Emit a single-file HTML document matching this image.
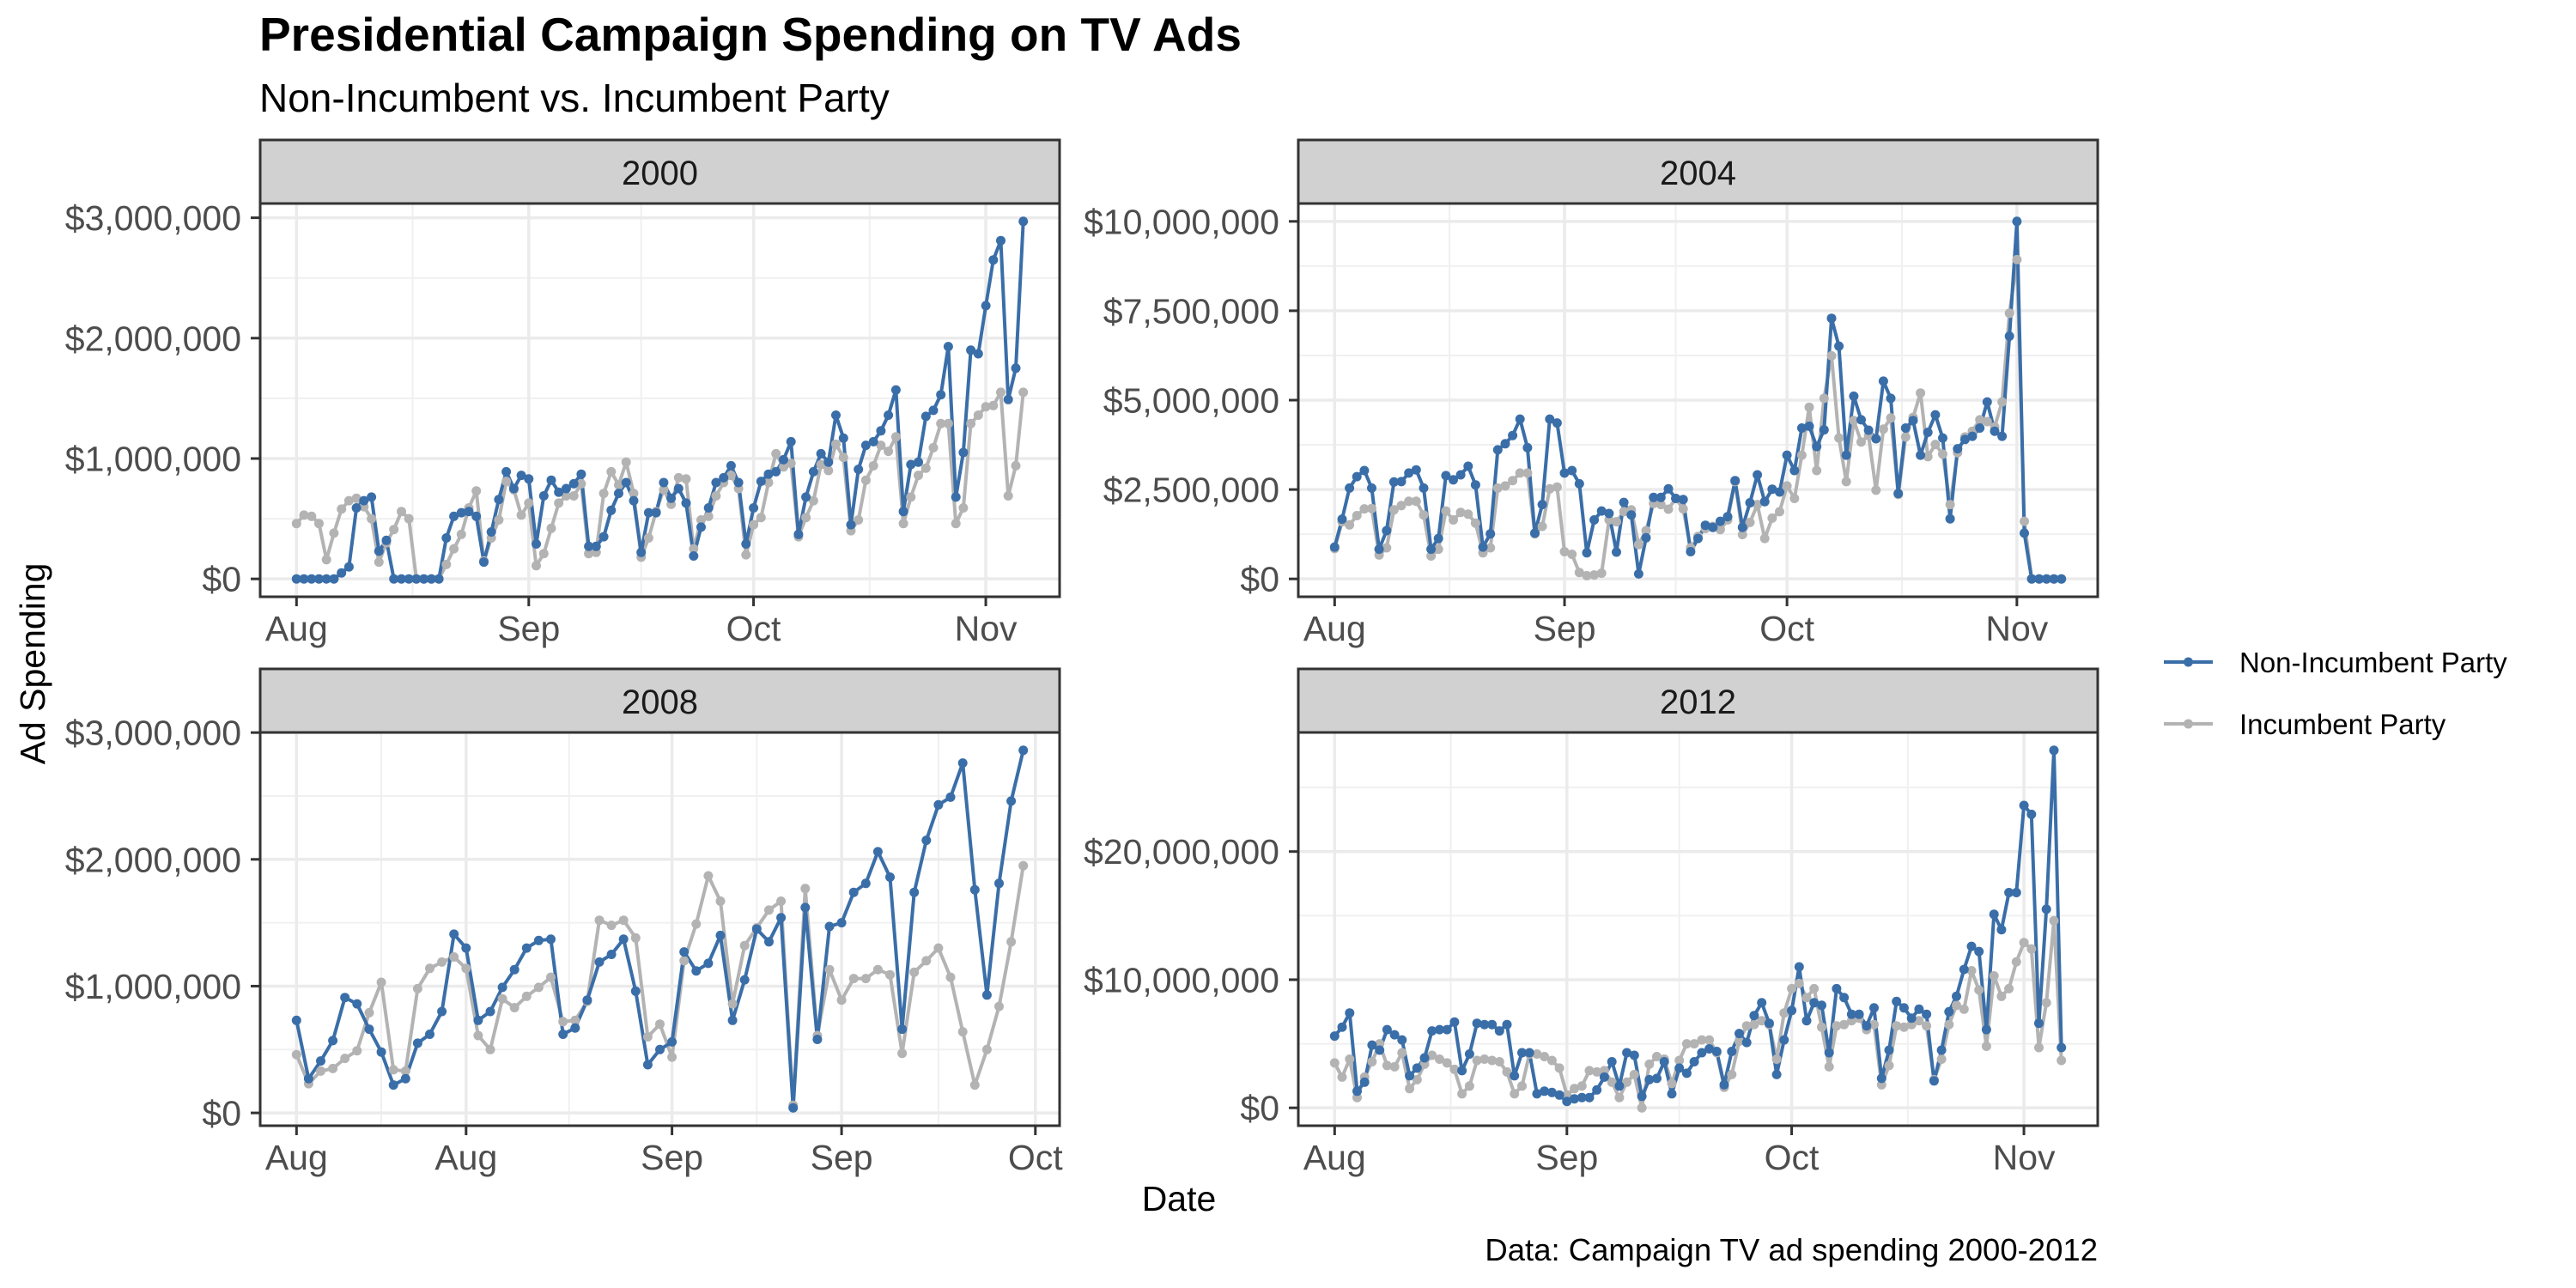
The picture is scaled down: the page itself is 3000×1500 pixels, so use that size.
<!DOCTYPE html>
<html>
<head>
<meta charset="utf-8">
<style>
  html, body { margin: 0; padding: 0; background: #ffffff; }
  body { width: 3000px; height: 1500px; overflow: hidden; }
  svg { display: block; font-family: "Liberation Sans", Arial, sans-serif; }
</style>
</head>
<body>
<svg id="chart" width="3000" height="1500" viewBox="0 0 3000 1500" xmlns="http://www.w3.org/2000/svg">
  <rect x="0" y="0" width="3000" height="1500" fill="#ffffff"/>
  <text x="302" y="59" font-size="55" font-weight="bold" fill="#000">Presidential Campaign Spending on TV Ads</text>
  <text x="302" y="130" font-size="46" fill="#000">Non-Incumbent vs. Incumbent Party</text>
  <text transform="translate(52,773) rotate(-90)" text-anchor="middle" font-size="41" fill="#000">Ad Spending</text>
  <text x="1373" y="1410" text-anchor="middle" font-size="41" fill="#000">Date</text>
  <text x="2443" y="1468" text-anchor="end" font-size="36.5" fill="#000">Data: Campaign TV ad spending 2000-2012</text>
  <g id="panels"></g>
  <g>
    <g>
      <line x1="2520" y1="771" x2="2577" y2="771" stroke="#3A6EA8" stroke-width="4"/>
      <circle cx="2548.5" cy="771" r="5.5" fill="#3A6EA8"/>
      <text x="2608" y="783" font-size="33" fill="#000">Non-Incumbent Party</text>
    </g>
    <g>
      <line x1="2520" y1="843" x2="2577" y2="843" stroke="#B3B3B3" stroke-width="4"/>
      <circle cx="2548.5" cy="843" r="5.5" fill="#B3B3B3"/>
      <text x="2608" y="855" font-size="33" fill="#000">Incumbent Party</text>
    </g>
  </g>
</svg>
<script>
// ---- data (values in millions of dollars, one per day from Aug 1) ----
const years = ["2000", "2004", "2008", "2012"];
const nonInc2000 = [0,0,0,0,0,0,0.05,0.1,0.59,0.65,0.68,0.23,0.32,0,0,0,0,0,0,0,0.34,0.52,0.55,0.56,0.52,0.14,0.39,0.66,0.89,0.75,0.86,0.83,0.29,0.69,0.82,0.72,0.75,0.79,0.87,0.27,0.27,0.35,0.57,0.71,0.8,0.65,0.22,0.55,0.55,0.8,0.67,0.75,0.63,0.19,0.43,0.59,0.8,0.84,0.94,0.8,0.29,0.59,0.81,0.87,0.89,0.99,1.14,0.37,0.68,0.89,1.04,0.97,1.36,1.17,0.45,0.91,1.11,1.14,1.23,1.36,1.57,0.56,0.95,0.97,1.35,1.40,1.53,1.93,0.68,1.05,1.90,1.87,2.27,2.65,2.81,1.49,1.75,2.97];
const inc2000 = [0.46,0.53,0.52,0.46,0.16,0.38,0.58,0.65,0.67,0.60,0.50,0.14,0.30,0.41,0.56,0.50,0,0,0,0,0.12,0.25,0.37,0.59,0.73,0.15,0.34,0.49,0.81,0.74,0.53,0.63,0.11,0.21,0.42,0.63,0.69,0.69,0.79,0.21,0.22,0.71,0.89,0.78,0.97,0.71,0.18,0.34,0.56,0.74,0.62,0.84,0.83,0.25,0.49,0.52,0.69,0.8,0.86,0.75,0.2,0.45,0.51,0.8,1.04,0.93,0.96,0.35,0.51,0.65,0.95,0.9,1.12,1.01,0.4,0.49,0.82,0.94,1.11,1.06,1.18,0.46,0.68,0.86,0.92,1.09,1.29,1.29,0.46,0.59,1.29,1.36,1.43,1.44,1.55,0.69,0.94,1.55];
const nonInc2004 = [0.89,1.67,2.54,2.86,3.03,2.54,0.83,1.35,2.71,2.72,2.96,3.05,2.54,0.83,1.13,2.89,2.77,2.91,3.15,2.63,0.89,1.26,3.61,3.78,4.01,4.47,3.67,1.28,2.08,4.47,4.36,2.96,3.03,2.66,0.73,1.65,1.90,1.83,0.75,2.14,1.79,0.14,1.15,2.28,2.28,2.52,2.25,2.22,0.76,1.13,1.50,1.44,1.61,1.74,2.75,1.44,2.13,2.91,2.16,2.51,2.43,3.46,3.03,4.22,4.27,3.70,4.17,7.29,6.51,3.46,5.11,4.45,4.16,3.92,5.53,5.05,2.39,4.22,4.43,3.46,4.10,4.59,3.94,1.68,3.64,3.90,3.99,4.22,4.95,4.13,3.99,6.79,10.0,1.28,0,0,0,0,0];
const inc2004 = [0.85,1.6,1.51,1.77,1.96,1.97,0.67,0.87,1.93,2.05,2.17,2.17,1.79,0.64,0.83,1.90,1.65,1.86,1.81,1.56,0.73,0.87,2.54,2.6,2.75,2.96,2.96,1.26,1.47,2.52,2.57,0.76,0.69,0.18,0.09,0.11,0.16,1.65,1.6,1.88,1.93,0.96,1.35,2.11,2.08,1.95,2.25,1.96,0.87,1.19,1.41,1.47,1.38,1.65,2.72,1.24,1.58,2.08,1.13,1.70,1.88,2.60,2.25,3.46,4.80,3.03,5.05,6.24,3.94,2.72,4.43,3.83,4.01,2.48,4.19,4.50,2.36,3.97,4.52,5.20,3.42,3.76,3.49,2.08,3.53,3.97,4.13,4.45,4.40,4.25,4.95,7.43,8.93,1.61,0,0,0,0,0];
const nonInc2008 = [0.73,0.27,0.41,0.57,0.91,0.86,0.66,0.48,0.22,0.27,0.55,0.62,0.80,1.41,1.30,0.73,0.80,0.99,1.13,1.30,1.36,1.37,0.62,0.67,0.89,1.19,1.25,1.37,0.96,0.38,0.50,0.56,1.27,1.12,1.18,1.40,0.73,1.05,1.45,1.35,1.54,0.04,1.62,0.58,1.47,1.50,1.74,1.81,2.06,1.86,0.66,1.74,2.15,2.43,2.49,2.76,1.76,0.93,1.81,2.46,2.86];
const inc2008 = [0.46,0.23,0.33,0.35,0.43,0.49,0.79,1.03,0.34,0.33,0.98,1.14,1.19,1.23,1.14,0.61,0.50,0.90,0.83,0.92,0.99,1.07,0.72,0.73,0.88,1.52,1.48,1.52,1.38,0.60,0.70,0.44,1.20,1.49,1.87,1.67,0.86,1.32,1.46,1.60,1.67,0.06,1.77,0.61,1.13,0.89,1.06,1.06,1.13,1.09,0.47,1.11,1.20,1.30,1.07,0.64,0.22,0.50,0.84,1.35,1.95];
const nonInc2012 = [5.6,6.3,7.4,1.3,2.0,4.9,4.5,6.1,5.7,5.3,2.5,3.1,3.9,6.0,6.1,6.1,6.7,2.9,4.2,6.6,6.5,6.5,6.0,6.5,2.5,4.3,4.3,1.1,1.3,1.2,1.0,0.5,0.7,0.8,0.8,1.4,2.4,3.6,1.7,4.3,4.1,0.9,2.2,2.3,3.6,1.1,3.1,2.7,3.6,4.3,4.6,4.4,1.8,4.4,5.8,5.1,7.2,8.2,6.6,2.6,5.3,7.6,11.0,6.8,8.2,8.0,4.3,9.3,8.6,7.3,7.3,6.4,7.8,2.3,4.5,8.3,7.8,7.0,7.7,7.3,2.1,4.5,7.5,8.7,10.8,12.6,12.2,6.1,15.1,13.9,16.8,16.8,23.6,22.9,6.6,15.5,27.9,4.7];
const inc2012 = [3.5,2.4,3.8,0.8,2.4,3.6,5.0,3.3,3.2,4.3,1.5,2.2,3.4,4.1,3.8,3.5,3.0,1.1,1.7,3.7,3.8,3.7,3.6,2.8,1.1,1.7,4.2,4.2,4.0,3.7,3.1,1.0,1.5,1.7,2.9,2.8,2.9,2.0,0.8,2.0,2.6,0.0,3.4,4.0,3.8,1.9,3.7,5.0,5.0,5.3,5.3,4.3,1.6,2.6,5.2,6.4,6.5,6.8,6.5,3.8,7.4,9.3,9.7,8.6,9.3,6.3,3.2,6.4,6.5,6.8,7.0,6.1,6.5,1.8,3.3,6.4,6.3,6.5,6.8,6.4,2.2,3.8,6.5,8.0,7.7,10.7,9.2,4.8,10.3,8.7,9.3,11.4,12.9,12.4,4.7,8.2,14.6,3.7];
// tick values (day offsets from Aug 1 / millions of dollars) and labels
const monthTicks = [0, 31, 61, 92];
const monthLabels = ["Aug", "Sep", "Oct", "Nov"];
const monthMinor = [15.5, 46, 76.5];
const ticks2008 = [0, 14, 31, 45, 61];
const labels2008 = ["Aug", "Aug", "Sep", "Sep", "Oct"];
const minor2008 = [7, 22.5, 38, 53];
const yTicksA = [0, 1, 2, 3];
const yMinorA = [0.5, 1.5, 2.5];
const yTicks2004 = [0, 2.5, 5, 7.5, 10];
const yMinor2004 = [1.25, 3.75, 6.25, 8.75];
const yTicks2012 = [0, 10, 20];
const yMinor2012 = [5, 15, 25];

const NS = "http://www.w3.org/2000/svg";
const BLUE = "#3A6EA8", GRAY = "#B3B3B3";
const PW = 931, PH = 458, SH = 74;
const layout = [
  {year: years[0], left: 303, top: 237, blue: nonInc2000, gray: inc2000, xt: monthTicks, xl: monthLabels, xm: monthMinor, yt: yTicksA, ym: yMinorA},
  {year: years[1], left: 1512, top: 237, blue: nonInc2004, gray: inc2004, xt: monthTicks, xl: monthLabels, xm: monthMinor, yt: yTicks2004, ym: yMinor2004},
  {year: years[2], left: 303, top: 853, blue: nonInc2008, gray: inc2008, xt: ticks2008, xl: labels2008, xm: minor2008, yt: yTicksA, ym: yMinorA},
  {year: years[3], left: 1512, top: 853, blue: nonInc2012, gray: inc2012, xt: monthTicks, xl: monthLabels, xm: monthMinor, yt: yTicks2012, ym: yMinor2012}
];

function mk(tag, attrs, parent) {
  const e = document.createElementNS(NS, tag);
  for (const k in attrs) e.setAttribute(k, attrs[k]);
  parent.appendChild(e);
  return e;
}
function fmtDollar(m) {
  const v = Math.round(m * 1e6);
  return "$" + v.toString().replace(/\B(?=(\d{3})+(?!\d))/g, ",");
}

const root = document.getElementById("panels");
layout.forEach(function (p) {
  const n = Math.max(p.blue.length, p.gray.length);
  const xMin = 0, xMax = n - 1;
  const all = p.blue.concat(p.gray);
  const yMin = Math.min.apply(null, all), yMax = Math.max.apply(null, all);
  const xPad = (xMax - xMin) * 0.05, yPad = (yMax - yMin) * 0.05;
  const x0 = xMin - xPad, x1 = xMax + xPad, y0 = yMin - yPad, y1 = yMax + yPad;
  const sx = function (d) { return p.left + (d - x0) / (x1 - x0) * PW; };
  const sy = function (v) { return p.top + PH - (v - y0) / (y1 - y0) * PH; };
  const bottom = p.top + PH;

  const g = mk("g", {}, root);
  
  

  mk("rect", {x: p.left, y: p.top, width: PW, height: PH, fill: "#ffffff"}, g);
  p.ym.forEach(function (v) {
    if (v < y0 || v > y1) return;
    const l = mk("line", {x1: p.left, x2: p.left + PW, y1: sy(v), y2: sy(v), stroke: "#F0F0F0", "stroke-width": 2}, g);
    
    
  });
  p.xm.forEach(function (d) {
    if (d < x0 || d > x1) return;
    const l = mk("line", {x1: sx(d), x2: sx(d), y1: p.top, y2: bottom, stroke: "#F0F0F0", "stroke-width": 2}, g);
    
    
  });
  p.yt.forEach(function (v) {
    if (v < y0 || v > y1) return;
    const y = sy(v);
    const l = mk("line", {x1: p.left, x2: p.left + PW, y1: y, y2: y, stroke: "#EBEBEB", "stroke-width": 3.5}, g);
    
    
    const t = mk("line", {x1: p.left - 11, x2: p.left, y1: y, y2: y, stroke: "#333333", "stroke-width": 3}, g);
    
    
    const tx = mk("text", {x: p.left - 22, y: y + 14.5, "text-anchor": "end", "font-size": 41, fill: "#4D4D4D"}, g);
    tx.textContent = fmtDollar(v);
    
    
  });
  p.xt.forEach(function (d, i) {
    if (d < x0 || d > x1) return;
    const x = sx(d);
    const l = mk("line", {x1: x, x2: x, y1: p.top, y2: bottom, stroke: "#EBEBEB", "stroke-width": 3.5}, g);
    
    
    const t = mk("line", {x1: x, x2: x, y1: bottom, y2: bottom + 11, stroke: "#333333", "stroke-width": 3}, g);
    
    
    const tx = mk("text", {x: x, y: bottom + 51, "text-anchor": "middle", "font-size": 41, fill: "#4D4D4D"}, g);
    tx.textContent = p.xl[i];
    
    
  });

  const series = [
    {vals: p.gray, color: GRAY, name: "incumbent"},
    {vals: p.blue, color: BLUE, name: "non-incumbent"}
  ];
  series.forEach(function (s) {
    const pts = s.vals.map(function (v, i) { return sx(i).toFixed(1) + "," + sy(v).toFixed(1); }).join(" ");
    const pl = mk("polyline", {points: pts, fill: "none", stroke: s.color, "stroke-width": 4, "stroke-linejoin": "round"}, g);
    
    
  });
  series.forEach(function (s) {
    const pg = mk("g", {fill: s.color}, g);
    
    
    s.vals.forEach(function (v, i) {
      const c = mk("circle", {cx: sx(i).toFixed(1), cy: sy(v).toFixed(1), r: 5.5}, pg);
      
      
    });
  });

  const b = mk("rect", {x: p.left, y: p.top, width: PW, height: PH, fill: "none", stroke: "#333333", "stroke-width": 3}, g);
  
  
  const st = mk("rect", {x: p.left, y: p.top - SH, width: PW, height: SH, fill: "#D1D1D1", stroke: "#333333", "stroke-width": 3}, g);
  
  
  const sl = mk("text", {x: p.left + PW / 2, y: p.top - SH / 2 + 15, "text-anchor": "middle", "font-size": 40, fill: "#1A1A1A"}, g);
  sl.textContent = p.year;
  
  
});
</script>
</body>
</html>
